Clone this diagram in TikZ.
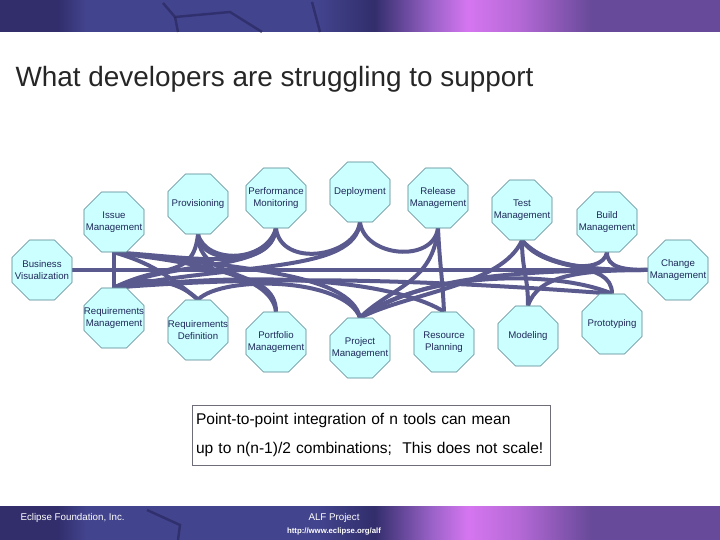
\documentclass[tikz,border=0pt]{standalone}
\usepackage{fontspec}
\setmainfont{Liberation Sans}
\usepackage{tikz}
\usetikzlibrary{shapes.geometric, backgrounds}

\definecolor{linkblue}{RGB}{90,90,142}
\definecolor{toolfill}{RGB}{204,255,255}
\definecolor{tooledge}{RGB}{80,128,140}
\definecolor{toolink}{RGB}{30,40,90}
\definecolor{boxgray}{RGB}{110,110,120}
\definecolor{barnavy}{RGB}{50,46,108}
\definecolor{barblue}{RGB}{66,68,142}
\definecolor{barpink}{RGB}{214,118,240}
\definecolor{barpurple}{RGB}{104,74,154}
\definecolor{barline}{RGB}{38,36,90}

% header / footer band
\pgfdeclarehorizontalshading{eclipsebar}{100bp}{color(0bp)=(barnavy); color(25bp)=(barnavy);
  color(29bp)=(barnavy); color(31bp)=(barblue); color(47bp)=(barblue); color(51bp)=(barnavy);
  color(55bp)=(barpink!60!barblue); color(57.5bp)=(barpink); color(61bp)=(barpink!70!barpurple);
  color(66bp)=(barpurple); color(75bp)=(barpurple); color(100bp)=(barpurple)}

\tikzset{
  tool/.style={regular polygon, regular polygon sides=8, minimum size=65bp,
    inner sep=0pt, draw=tooledge, line width=0.6bp, fill=toolfill},
  tooltext/.style={align=center, text=toolink, font=\fontsize{9.7}{12}\selectfont},
  link/.style={draw=linkblue, line width=4bp},
  decor/.style={draw=barline, line width=2.5bp, opacity=0.6}
}

\begin{document}
\begin{tikzpicture}[x=1bp, y=1bp]
  \useasboundingbox (0,0) rectangle (720,540);
  % bands
  \shade[shading=eclipsebar] (0,508) rectangle (720,540);
  \shade[shading=eclipsebar] (0,0) rectangle (720,33);
  \draw[decor] (163,537) -- (175,523) -- (230,528) -- (262,508);
  \draw[decor] (175,523) -- (178,508);
  \draw[decor] (312,538) -- (320,508);
  \draw[decor] (147,30) -- (180,15) -- (178,0);
  % title
  \node[anchor=west, font=\fontsize{28}{30}\selectfont, text=black!85] (title) at (12,461)
    {What developers are struggling to support};
  % tools, top row
  \node[tool, label={[tooltext]center:Issue\\Management}] (issue) at (114,318) {};
  \node[tool, label={[tooltext]center:Provisioning}] (prov) at (198,336) {};
  \node[tool, label={[tooltext]center:Performance\\Monitoring}] (perf) at (276,342) {};
  \node[tool, label={[tooltext]center:Deployment}] (deploy) at (360,348) {};
  \node[tool, label={[tooltext]center:Release\\Management}] (release) at (438,342) {};
  \node[tool, label={[tooltext]center:Test\\Management}] (test) at (522,330) {};
  \node[tool, label={[tooltext]center:Build\\Management}] (build) at (607,318) {};
  % tools, sides
  \node[tool, label={[tooltext]center:Business\\Visualization}] (bizvis) at (42,270) {};
  \node[tool, label={[tooltext]center:Change\\Management}] (change) at (678,270) {};
  % tools, bottom row
  \node[tool, label={[tooltext]center:Requirements\\Management}] (reqm) at (114,222) {};
  \node[tool, label={[tooltext]center:Requirements\\Definition}] (reqdef) at (198,210) {};
  \node[tool, label={[tooltext]center:Portfolio\\Management}] (portf) at (276,198) {};
  \node[tool, label={[tooltext]center:Project\\Management}] (proj) at (360,192) {};
  \node[tool, label={[tooltext]center:Resource\\Planning}] (resplan) at (444,198) {};
  \node[tool, label={[tooltext]center:Modeling}] (model) at (528,204) {};
  \node[tool, label={[tooltext]center:Prototyping}] (proto) at (612,216) {};
  % point-to-point links
  \begin{scope}[on background layer]
    \draw[link] (bizvis.east) -- (change.west);
    \draw[link] (issue.south) -- (reqm.north);
    \draw[link] (issue.south) .. controls +(35,-10) and +(-30,25) .. (reqdef.north);
    \draw[link] (issue.south) .. controls +(70,-10) and +(-5,40) .. (portf.north);
    \draw[link] (issue.south) .. controls +(120,-15) and +(-10,45) .. (proj.north);
    \draw[link] (issue.south) .. controls +(80,-5) and +(-5,-45) .. (perf.south);
    \draw[link] (reqm.north) .. controls +(50,25) and +(-5,-45) .. (prov.south);
    \draw[link] (reqm.north) .. controls +(70,30) and +(-5,-45) .. (perf.south);
    \draw[link] (reqm.north) .. controls +(130,25) and +(-5,-50) .. (deploy.south);
    \draw[link] (reqm.north) .. controls +(30,12) and +(-20,20) .. (reqdef.north);
    \draw[link] (reqm.north) .. controls +(180,20) and +(-40,25) .. (resplan.north);
    \draw[link] (reqdef.north) .. controls +(25,25) and +(-15,40) .. (proj.north);
    \draw[link] (prov.south) .. controls +(3,-35) and +(-5,-32) .. (perf.south);
    \draw[link] (prov.south) .. controls +(8,-30) and +(-10,-35) .. (perf.south);
    \draw[link] (prov.south) .. controls +(0,-50) and +(0,45) .. (portf.north);
    \draw[link] (perf.south) .. controls +(5,-40) and +(-5,-35) .. (deploy.south);
    \draw[link] (deploy.south) .. controls +(5,-35) and +(-5,-35) .. (release.south);
    \draw[link] (release.south) .. controls +(2,-40) and +(-2,40) .. (resplan.north);
    \draw[link] (release.south) .. controls +(-5,-55) and +(30,30) .. (proj.north);
    \draw[link] (test.south) .. controls +(-20,-45) and +(50,25) .. (proj.north);
    \draw[link] (test.south) .. controls +(0,-30) and +(0,30) .. (model.north);
    \draw[link] (test.south) .. controls +(20,-25) and +(-5,-25) .. (build.south);
    \draw[link] (test.south) .. controls +(25,-28) and +(-50,0) .. (change.west);
    \draw[link] (test.south) .. controls +(25,-35) and +(0,35) .. (proto.north);
    \draw[link] (build.south) .. controls +(0,-15) and +(-25,0) .. (change.west);
    \draw[link] (proto.north) .. controls +(-60,25) and +(60,45) .. (proj.north);
    \draw[link] (proto.north) .. controls +(-200,15) and +(150,12) .. (reqm.north);
    \draw[link] (model.north) .. controls +(10,30) and +(-70,0) .. (change.west);
    \draw[link] (proj.north) .. controls +(60,40) and +(-140,0) .. (change.west);
  \end{scope}
  % remark
  \node[draw=boxgray, line width=0.8bp, minimum width=358bp, minimum height=60bp,
    inner sep=4bp, text width=350bp, align=left,
    font=\fontsize{15.6}{29}\selectfont] (remark) at (371,105)
    {Point-to-point integration of n tools can mean\\up to n(n-1)/2 combinations;\ \ This does not scale!};
  % footer texts
  \node[anchor=west, text=white, font=\fontsize{9.8}{11}\selectfont] (org) at (17,22) {Eclipse Foundation, Inc.};
  \node[text=white, font=\fontsize{9.8}{11}\selectfont] (alf) at (334,22) {ALF Project};
  \node[text=white, font=\bfseries\fontsize{7.8}{8}\selectfont] (url) at (334,8) {http://www.eclipse.org/alf};
\end{tikzpicture}
\end{document}
